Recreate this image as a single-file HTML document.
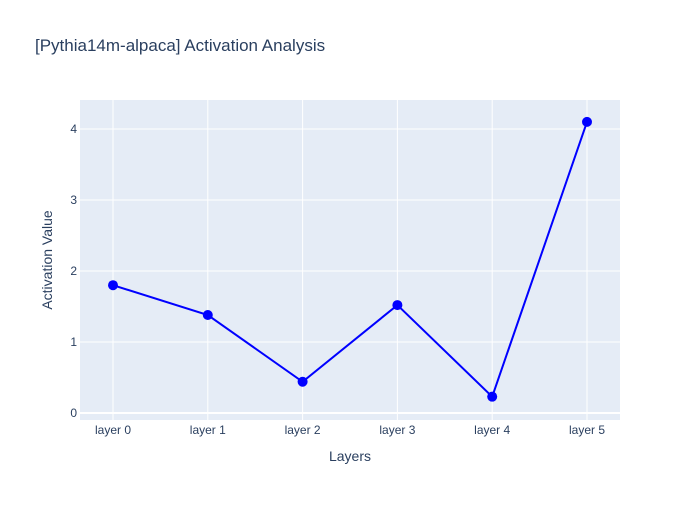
<!DOCTYPE html>
<html><head><meta charset="utf-8"><style>
body{margin:0;background:#fff;font-family:"Liberation Sans",sans-serif;}
</style></head><body>
<svg id="chart" width="700" height="500" xmlns="http://www.w3.org/2000/svg">
<rect x="0" y="0" width="700" height="500" fill="#fff"/>
<text x="35" y="51" font-size="17" fill="#2a3f5f">[Pythia14m-alpaca] Activation Analysis</text>
<rect x="80" y="100" width="540" height="320" fill="#e5ecf6"/>
<g id="grid"></g>
<g id="series"></g>
<g id="labels"></g>
<text x="350" y="461" font-size="14" fill="#2a3f5f" text-anchor="middle">Layers</text>
<text x="0" y="0" font-size="14" fill="#2a3f5f" text-anchor="middle" transform="translate(52,260) rotate(-90)">Activation Value</text>
</svg>
<script>
const categories = ["layer 0","layer 1","layer 2","layer 3","layer 4","layer 5"];
const values = [1.80, 1.38, 0.44, 1.52, 0.23, 4.10];
const yTicks = [0, 1, 2, 3, 4];
const NS = "http://www.w3.org/2000/svg";
function xPos(i){ return 113 + i * 94.8; }
function yPos(v){ return 413 - v * 71; }
function mk(tag, attrs, parent){ const e=document.createElementNS(NS,tag); for(const k in attrs) e.setAttribute(k,attrs[k]); document.getElementById(parent).appendChild(e); return e; }
categories.forEach((c,i)=>{
  const g = mk('line',{x1:xPos(i),x2:xPos(i),y1:100,y2:420,stroke:'#fff','stroke-width':1},'grid');
  
  
  const t = mk('text',{x:xPos(i),y:434,'font-size':12,fill:'#2a3f5f','text-anchor':'middle'},'labels');
  t.textContent = c;
  
  
});
yTicks.forEach(v=>{
  const g = mk('line',{x1:80,x2:620,y1:yPos(v),y2:yPos(v),stroke:'#fff','stroke-width':v===0?2:1},'grid');
  
  
  const t = mk('text',{x:77,y:yPos(v)+4,'font-size':12,fill:'#2a3f5f','text-anchor':'end'},'labels');
  t.textContent = v;
  
  
});
const pts = values.map((v,i)=>xPos(i)+','+yPos(v)).join(' ');
const line = mk('polyline',{points:pts,fill:'none',stroke:'#0000ff','stroke-width':2},'series');


values.forEach((v,i)=>{
  const c = mk('circle',{cx:xPos(i),cy:yPos(v),r:5,fill:'#0000ff'},'series');
  
  
});
</script>
</body></html>
